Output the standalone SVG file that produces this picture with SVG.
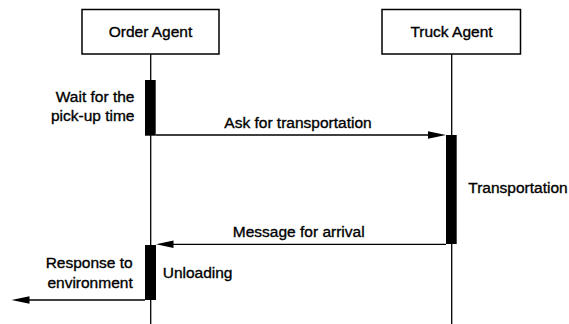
<svg xmlns="http://www.w3.org/2000/svg" width="569" height="324" viewBox="0 0 569 324">
<style>
text{font-family:"Liberation Sans",Arial,sans-serif;font-size:15.5px;fill:#000;stroke:#000;stroke-width:0.35px}
.box{fill:#fff;stroke:#000;stroke-width:1.5}
.life{stroke:#000;stroke-width:1.3;fill:none}
.act{fill:#000}
.msg{stroke:#000;stroke-width:1.3;fill:none}
.mid{text-anchor:middle}
.end{text-anchor:end}
</style>
<rect width="569" height="324" fill="#fff"/>
<g id="lifelines">
<line class="life" x1="150.7" y1="54" x2="150.7" y2="324"/>
<line class="life" x1="451.7" y1="54" x2="451.7" y2="324"/>
</g>
<g id="order-agent">
<rect class="box" x="82" y="9.5" width="137" height="44.5"/>
<text class="mid" x="150.5" y="37">Order Agent</text>
</g>
<g id="truck-agent">
<rect class="box" x="382" y="9.5" width="138.5" height="44.5"/>
<text class="mid" x="451.5" y="37">Truck Agent</text>
</g>
<g id="wait">
<rect class="act" x="145" y="80" width="10.7" height="55.7"/>
<text class="end" x="134.5" y="102.3">Wait for the</text>
<text class="end" x="134.5" y="120.5">pick-up time</text>
</g>
<g id="transportation">
<rect class="act" x="446" y="135" width="10.7" height="109"/>
<text x="468.3" y="193.3">Transportation</text>
</g>
<g id="unloading">
<rect class="act" x="145" y="245" width="11" height="55"/>
<text x="162.7" y="278.3">Unloading</text>
</g>
<g id="connectors">
<line class="msg" x1="155.7" y1="135" x2="430" y2="135"/>
<polygon points="428,131.3 446,135 428,138.7" fill="#000"/>
<text class="mid" x="298" y="127.7">Ask for transportation</text>
<line class="msg" x1="446" y1="244.3" x2="172" y2="244.3"/>
<polygon points="173.5,240.6 156,244.3 173.5,248" fill="#000"/>
<text class="mid" x="298.7" y="236.5">Message for arrival</text>
<line class="msg" x1="145" y1="300" x2="28" y2="300"/>
<polygon points="29.5,296.3 11.5,300 29.5,303.7" fill="#000"/>
<text class="end" x="132.7" y="268.3">Response to</text>
<text class="end" x="132.7" y="288.3">environment</text>
</g>
</svg>
